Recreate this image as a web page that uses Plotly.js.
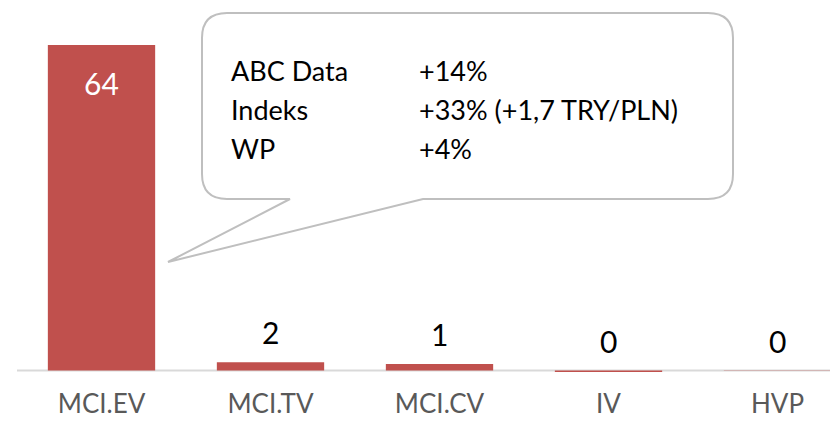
<!DOCTYPE html>
<html>
<head>
<meta charset="utf-8">
<script src="https://cdn.plot.ly/plotly-3.0.1.min.js"></script>
<style>html,body{margin:0;padding:0;background:#fff;}#chart{width:839px;height:422px;}</style>
</head>
<body>
<div id="chart"></div>
<script>
const categories = ["MCI.EV", "MCI.TV", "MCI.CV", "IV", "HVP"];
const values = [64, 1.6, 1.3, -0.3, -0.05];
const labels = ["64", "2", "1", "0", "0"];
const calloutNames = ["ABC Data", "Indeks", "WP"];
const calloutValues = ["+14%", "+33% (+1,7 TRY/PLN)", "+4%"];

const W = 839, H = 422;
const M = {l: 17, r: 9, t: 10, b: 48};
const pw = W - M.l - M.r, ph = H - M.t - M.b;
const px = x => (x - M.l) / pw;
const py = y => (H - M.b - y) / ph;
const P = (x, y) => px(x).toFixed(5) + "," + py(y).toFixed(5);

const barColor = "#c0504d";
const font = "Lato, 'Open Sans', sans-serif";

const bars = {
  type: "bar",
  x: categories,
  y: values,
  marker: {color: barColor, line: {width: 0}},
  hoverinfo: "skip"
};

const annotations = [];
values.forEach((v, i) => {
  if (v > 20) {
    annotations.push({x: categories[i], y: v, xref: "x", yref: "y", text: labels[i], showarrow: false,
      yanchor: "top", yshift: -18, font: {family: font, size: 30, color: "#ffffff"}});
  } else {
    annotations.push({x: categories[i], y: Math.max(v, 0), xref: "x", yref: "y", text: labels[i], showarrow: false,
      yanchor: "bottom", yshift: 10, font: {family: font, size: 30, color: "#000000"}});
  }
});
calloutNames.forEach((n, i) => {
  const yc = 71 + i * 38.5;
  annotations.push({x: px(229), y: py(yc), xref: "paper", yref: "paper", text: n, showarrow: false,
    xanchor: "left", yanchor: "middle", font: {family: font, size: 27, color: "#000"}});
  annotations.push({x: px(417), y: py(yc), xref: "paper", yref: "paper", text: calloutValues[i], showarrow: false,
    xanchor: "left", yanchor: "middle", font: {family: font, size: 27, color: "#000"}});
});

const x0 = 202, x1 = 733, y0 = 13, y1 = 199, r = 25;
const path = "M" + P(x0 + r, y0) + " L" + P(x1 - r, y0) + " Q" + P(x1, y0) + " " + P(x1, y0 + r) +
  " L" + P(x1, y1 - r) + " Q" + P(x1, y1) + " " + P(x1 - r, y1) +
  " L" + P(423, y1) + " L" + P(168, 262) + " L" + P(290, y1) +
  " L" + P(x0 + r, y1) + " Q" + P(x0, y1) + " " + P(x0, y1 - r) +
  " L" + P(x0, y0 + r) + " Q" + P(x0, y0) + " " + P(x0 + r, y0) + " Z";

const pxPerUnit = (370.5 - 45) / 64;
const yMax = 64 + (45 - M.t) / pxPerUnit;
const yMin = -((H - M.b) - 370.5) / pxPerUnit;

const layout = {
  width: W, height: H,
  margin: M,
  paper_bgcolor: "#fff", plot_bgcolor: "#fff",
  showlegend: false,
  bargap: 0.365,
  xaxis: {
    type: "category",
    range: [-0.5, -0.5 + pw / 169],
    showgrid: false, zeroline: false, showline: false, ticks: "",
    tickfont: {family: font, size: 26, color: "#595959"},
    ticklabelstandoff: 12,
    fixedrange: true
  },
  yaxis: {
    range: [yMin, yMax],
    showgrid: false, zeroline: false, showline: false, showticklabels: false, ticks: "",
    fixedrange: true
  },
  shapes: [
    {type: "line", xref: "paper", yref: "y", x0: 0, x1: 1, y0: 0, y1: 0, layer: "below",
      line: {color: "#d9d9d9", width: 2}},
    {type: "path", xref: "paper", yref: "paper", path: path, fillcolor: "#ffffff",
      line: {color: "#bfbfbf", width: 2}}
  ],
  annotations: annotations
};

Plotly.newPlot("chart", [bars], layout, {displayModeBar: false, staticPlot: true});
</script>
</body>
</html>
